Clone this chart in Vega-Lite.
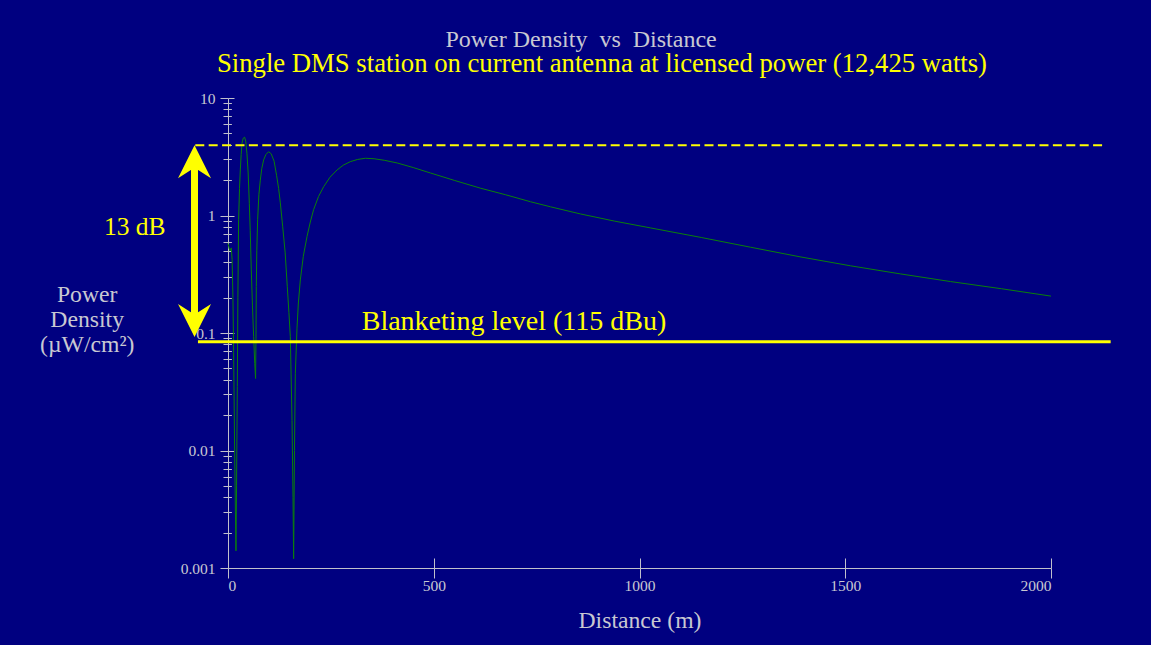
{
  "$schema": "https://vega.github.io/schema/vega-lite/v6.json",
  "width": 823,
  "height": 470,
  "autosize": {"type": "none"},
  "padding": {"left": 228, "top": 98, "right": 100, "bottom": 77},
  "background": "#000080",
  "config": {
    "view": {"stroke": null},
    "font": "Liberation Serif",
    "axis": {"grid": false, "domainColor": "#c0c0cc", "tickColor": "#c0c0cc", "labelColor": "#c8c8d2", "titleColor": "#c8c8d2", "labelFont": "Liberation Serif", "titleFont": "Liberation Serif", "titleFontWeight": "normal"}
  },
  "datasets": {
    "curve": [
      {"d": 0, "v": 0.58}, {"d": 3, "v": 0.52}, {"d": 5, "v": 0.5}, {"d": 8, "v": 0.53}, {"d": 10, "v": 0.42},
      {"d": 12, "v": 0.2}, {"d": 13.7, "v": 0.068}, {"d": 16.2, "v": 0.0095}, {"d": 18, "v": 0.003}, {"d": 19.4, "v": 0.0014},
      {"d": 20.8, "v": 0.005}, {"d": 22.6, "v": 0.035}, {"d": 24, "v": 0.2}, {"d": 25.8, "v": 0.92}, {"d": 28, "v": 1.7},
      {"d": 29.9, "v": 2.44}, {"d": 32, "v": 3.3}, {"d": 34, "v": 4.12}, {"d": 37, "v": 4.55}, {"d": 40.4, "v": 4.64},
      {"d": 43, "v": 4.3}, {"d": 46, "v": 3.39}, {"d": 49, "v": 2.3}, {"d": 51.8, "v": 1.27}, {"d": 54, "v": 0.75},
      {"d": 56.6, "v": 0.344}, {"d": 59.5, "v": 0.17}, {"d": 62.3, "v": 0.093}, {"d": 65, "v": 0.055}, {"d": 67, "v": 0.041},
      {"d": 68, "v": 0.09}, {"d": 68.8, "v": 0.249}, {"d": 70, "v": 0.5}, {"d": 72, "v": 0.92}, {"d": 75, "v": 1.5},
      {"d": 78.5, "v": 2.0}, {"d": 82, "v": 2.5}, {"d": 86.6, "v": 2.97}, {"d": 92, "v": 3.3}, {"d": 98.7, "v": 3.49},
      {"d": 105, "v": 3.35}, {"d": 112, "v": 2.9}, {"d": 118, "v": 2.2}, {"d": 123, "v": 1.7}, {"d": 127, "v": 1.3},
      {"d": 133, "v": 0.8}, {"d": 139, "v": 0.48}, {"d": 144, "v": 0.25}, {"d": 148, "v": 0.15}, {"d": 151.5, "v": 0.093},
      {"d": 155.6, "v": 0.018}, {"d": 158, "v": 0.004}, {"d": 159.5, "v": 0.0012}, {"d": 161.5, "v": 0.01}, {"d": 163.6, "v": 0.045},
      {"d": 167.7, "v": 0.11}, {"d": 171, "v": 0.18}, {"d": 175.8, "v": 0.283}, {"d": 183, "v": 0.45}, {"d": 192, "v": 0.662},
      {"d": 200, "v": 0.88}, {"d": 208, "v": 1.12}, {"d": 220, "v": 1.45}, {"d": 232.5, "v": 1.76}, {"d": 248, "v": 2.12},
      {"d": 265, "v": 2.44}, {"d": 280, "v": 2.68}, {"d": 297, "v": 2.87}, {"d": 315, "v": 3.0}, {"d": 334, "v": 3.07},
      {"d": 355, "v": 3.04}, {"d": 380, "v": 2.95}, {"d": 411, "v": 2.8}, {"d": 450, "v": 2.56}, {"d": 492, "v": 2.3},
      {"d": 550, "v": 1.99}, {"d": 613, "v": 1.71}, {"d": 675, "v": 1.5}, {"d": 735, "v": 1.31}, {"d": 784, "v": 1.185},
      {"d": 857, "v": 1.03}, {"d": 940, "v": 0.895}, {"d": 1026, "v": 0.785}, {"d": 1150, "v": 0.65}, {"d": 1270, "v": 0.537},
      {"d": 1390, "v": 0.445}, {"d": 1513, "v": 0.373}, {"d": 1635, "v": 0.318}, {"d": 1756, "v": 0.274}, {"d": 1880, "v": 0.238},
      {"d": 2000, "v": 0.206}
    ],
    "blanket": [{"x1": -73, "x2": 2145, "y": 0.0841}],
    "peak": [{"x1": -79.5, "x2": 2133, "y": 3.96}],
    "shaft": [{"x": -81.4, "y1": 2.868, "y2": 0.128}],
    "headTop": [{"x": -81.4, "y": 2.868}],
    "headBottom": [{"x": -81.4, "y": 0.128}],
    "dbLabel": [{"x": -226.6, "y": 0.684, "t": "13 dB"}],
    "blanketLabel": [{"x": 695, "y": 0.1064, "t": "Blanketing level (115 dBu)"}],
    "heading": [{"x": 858, "y": 31.1, "t": "Power Density \u00a0vs \u00a0Distance"}],
    "subheading": [{"x": 908.8, "y": 19.46, "t": "Single DMS station on current antenna at licensed power (12,425 watts)"}]
  },
  "layer": [
    {
      "data": {"name": "curve"},
      "mark": {"type": "line", "color": "#0a800a", "strokeWidth": 1, "clip": false},
      "encoding": {
        "x": {"field": "d", "type": "quantitative", "scale": {"domain": [0, 2000]},
          "axis": {"orient": "bottom", "values": [0, 500, 1000, 1500, 2000], "format": "d", "tickSize": 10, "labelPadding": 0, "labelFontSize": 15.5, "title": "Distance (m)", "titleFontSize": 23.7, "titlePadding": 15}},
        "y": {"field": "v", "type": "quantitative", "scale": {"type": "log", "domain": [0.001, 10]},
          "axis": {"orient": "left", "values": [0.001, 0.002, 0.003, 0.004, 0.005, 0.006, 0.007, 0.008, 0.009, 0.01, 0.02, 0.03, 0.04, 0.05, 0.06, 0.07, 0.08, 0.09, 0.1, 0.2, 0.3, 0.4, 0.5, 0.6, 0.7, 0.8, 0.9, 1, 2, 3, 4, 5, 6, 7, 8, 9, 10],
            "format": "~g",
            "labelExpr": "(datum.value == 0.001 || datum.value == 0.01 || datum.value == 0.1 || datum.value == 1 || datum.value == 10) ? datum.label : ''",
            "tickSize": {"condition": {"test": "datum.value == 0.001 || datum.value == 0.01 || datum.value == 0.1 || datum.value == 1 || datum.value == 10", "value": 8}, "value": 5},
            "labelPadding": 5, "labelFontSize": 15.5,
            "title": ["Power", "Density", "(µW/cm²)"], "titleFontSize": 23.7, "titleLineHeight": 25.3,
            "titleAngle": 0, "titleAlign": "center", "titleBaseline": "alphabetic", "titleX": -141.3, "titleY": 203}}
      }
    },
    {
      "data": {"name": "blanket"},
      "mark": {"type": "rule", "color": "#ffff00", "strokeWidth": 3},
      "encoding": {
        "x": {"field": "x1", "type": "quantitative", "scale": {"domain": [0, 2000]},
          "axis": {"orient": "bottom", "offset": -10, "values": [0, 500, 1000, 1500, 2000], "tickSize": 10, "labels": false, "domain": false, "title": null}},
        "x2": {"field": "x2"},
        "y": {"field": "y", "type": "quantitative", "scale": {"type": "log", "domain": [0.001, 10]},
          "axis": {"orient": "left", "offset": -6, "values": [0.001, 0.01, 0.1, 1, 10], "tickSize": 6, "labels": false, "domain": false, "title": null}}
      }
    },
    {
      "data": {"name": "peak"},
      "mark": {"type": "rule", "color": "#ffff00", "strokeWidth": 2, "strokeDash": [9, 4.4]},
      "encoding": {
        "x": {"field": "x1", "type": "quantitative", "scale": {"domain": [0, 2000]}, "axis": null},
        "x2": {"field": "x2"},
        "y": {"field": "y", "type": "quantitative", "scale": {"type": "log", "domain": [0.001, 10]},
          "axis": {"orient": "left", "offset": -3.4, "values": [0.002, 0.003, 0.004, 0.005, 0.006, 0.007, 0.008, 0.009, 0.02, 0.03, 0.04, 0.05, 0.06, 0.07, 0.08, 0.09, 0.2, 0.3, 0.4, 0.5, 0.6, 0.7, 0.8, 0.9, 2, 3, 4, 5, 6, 7, 8, 9], "tickSize": 3.4, "labels": false, "domain": false, "title": null}}
      }
    },
    {
      "data": {"name": "shaft"},
      "mark": {"type": "rule", "color": "#ffff00", "strokeWidth": 7},
      "encoding": {
        "x": {"field": "x", "type": "quantitative", "scale": {"domain": [0, 2000]}, "axis": null},
        "y": {"field": "y1", "type": "quantitative", "scale": {"type": "log", "domain": [0.001, 10]}, "axis": null},
        "y2": {"field": "y2"}
      }
    },
    {
      "data": {"name": "headTop"},
      "mark": {"type": "point", "shape": "M0,-1L1,1L0.22,0.5L-0.22,0.5L-1,1Z", "size": 1089, "filled": true, "fill": "#ffff00", "strokeWidth": 0, "opacity": 1},
      "encoding": {
        "x": {"field": "x", "type": "quantitative", "scale": {"domain": [0, 2000]}, "axis": null},
        "y": {"field": "y", "type": "quantitative", "scale": {"type": "log", "domain": [0.001, 10]}, "axis": null}
      }
    },
    {
      "data": {"name": "headBottom"},
      "mark": {"type": "point", "shape": "M0,1L1,-1L0.22,-0.5L-0.22,-0.5L-1,-1Z", "size": 1089, "filled": true, "fill": "#ffff00", "strokeWidth": 0, "opacity": 1},
      "encoding": {
        "x": {"field": "x", "type": "quantitative", "scale": {"domain": [0, 2000]}, "axis": null},
        "y": {"field": "y", "type": "quantitative", "scale": {"type": "log", "domain": [0.001, 10]}, "axis": null}
      }
    },
    {
      "data": {"name": "dbLabel"},
      "mark": {"type": "text", "color": "#ffff00", "fontSize": 25.5, "font": "Liberation Serif", "align": "center", "baseline": "alphabetic"},
      "encoding": {
        "x": {"field": "x", "type": "quantitative", "scale": {"domain": [0, 2000]}, "axis": null},
        "y": {"field": "y", "type": "quantitative", "scale": {"type": "log", "domain": [0.001, 10]}, "axis": null},
        "text": {"field": "t"}
      }
    },
    {
      "data": {"name": "blanketLabel"},
      "mark": {"type": "text", "color": "#ffff00", "fontSize": 28, "font": "Liberation Serif", "align": "center", "baseline": "alphabetic"},
      "encoding": {
        "x": {"field": "x", "type": "quantitative", "scale": {"domain": [0, 2000]}, "axis": null},
        "y": {"field": "y", "type": "quantitative", "scale": {"type": "log", "domain": [0.001, 10]}, "axis": null},
        "text": {"field": "t"}
      }
    },
    {
      "data": {"name": "heading"},
      "mark": {"type": "text", "color": "#c8c8d2", "fontSize": 24, "font": "Liberation Serif", "align": "center", "baseline": "middle"},
      "encoding": {
        "x": {"field": "x", "type": "quantitative", "scale": {"domain": [0, 2000]}, "axis": null},
        "y": {"field": "y", "type": "quantitative", "scale": {"type": "log", "domain": [0.001, 10]}, "axis": null},
        "text": {"field": "t"}
      }
    },
    {
      "data": {"name": "subheading"},
      "mark": {"type": "text", "color": "#ffff00", "fontSize": 26.7, "font": "Liberation Serif", "align": "center", "baseline": "middle"},
      "encoding": {
        "x": {"field": "x", "type": "quantitative", "scale": {"domain": [0, 2000]}, "axis": null},
        "y": {"field": "y", "type": "quantitative", "scale": {"type": "log", "domain": [0.001, 10]}, "axis": null},
        "text": {"field": "t"}
      }
    }
  ],
  "resolve": {"axis": {"x": "independent", "y": "independent"}}
}
